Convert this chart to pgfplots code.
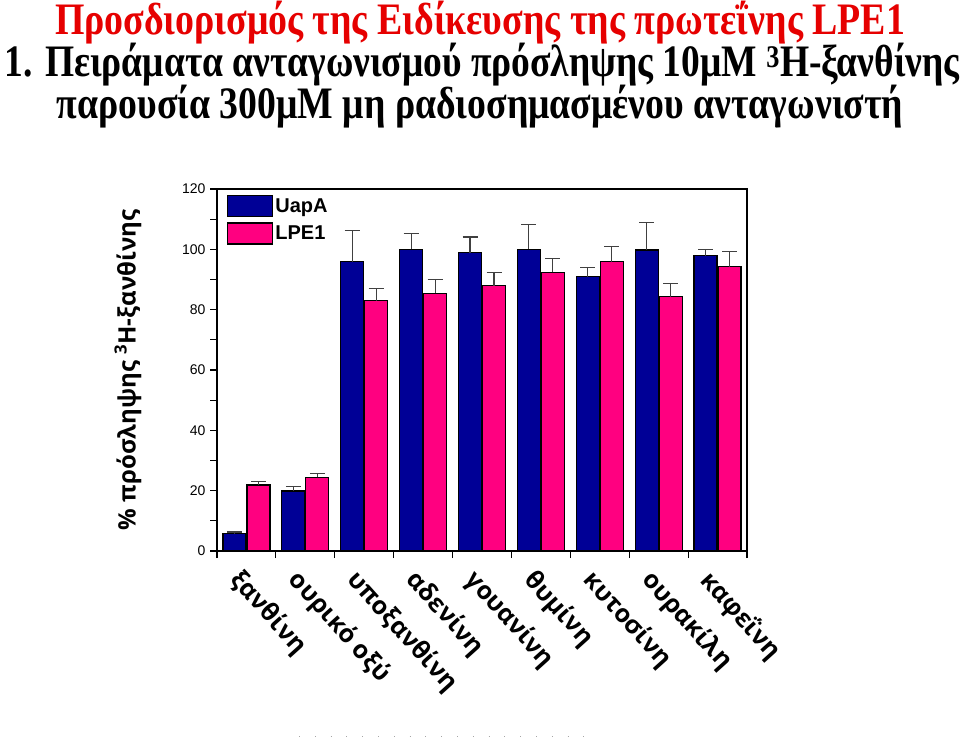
\documentclass[border=0pt]{standalone}
\usepackage{pgfplots}
\pgfplotsset{compat=1.18}
\usepackage{pgfplotstable}
\usepackage{graphicx}
\usepackage{fontspec}
\setmainfont{Liberation Serif}
\newfontfamily\lsans{Liberation Sans}
\newfontfamily\osans{Open Sans}

\definecolor{uapa}{RGB}{0,0,150}
\definecolor{lpe}{RGB}{255,0,128}
\definecolor{titlered}{RGB}{230,0,0}

% cat: 0..8, values and upper errors
\pgfplotstableread{
x uapa uerr lpe lerr
0 5.8  0.5 21.9 1.2
1 19.9 1.6 24.4 1.2
2 95.9 10.2 83.0 4.1
3 100.0 5.1 85.4 4.5
4 98.9 5.2 87.9 4.5
5 100.0 8.1 92.4 4.7
6 90.9 3.1 95.9 5.0
7 99.8 9.1 84.3 4.4
8 97.9 2.1 94.2 5.0
}\uptake

\begin{document}
\begin{tikzpicture}[x=1pt,y=1pt]
\useasboundingbox (0,0) rectangle (960,739);

% titles
\node[anchor=base, text=titlered, font=\fontsize{45}{45}\selectfont\bfseries, inner sep=0]
  at (480,704) {\resizebox{850pt}{\height}{Προσδιορισμός της Ειδίκευσης της πρωτεΐνης LPE1}};
\node[anchor=base, font=\fontsize{45}{45}\selectfont\bfseries, inner sep=0]
  at (482,662) {\resizebox{955pt}{\height}{1. Πειράματα ανταγωνισμού πρόσληψης 10μΜ \textsuperscript{3}Η-ξανθίνης}};
\node[anchor=base, font=\fontsize{45}{45}\selectfont\bfseries, inner sep=0]
  at (480,620) {\resizebox{846pt}{\height}{παρουσία 300μΜ μη ραδιοσημασμένου ανταγωνιστή}};

% y label
\node[rotate=90, font=\osans\fontsize{24}{24}\selectfont\bfseries, inner sep=0]
  at (128,369) {\% πρόσληψης \textsuperscript{3}H-ξανθίνης};

\begin{axis}[
  at={(217pt,188pt)}, anchor=south west,
  scale only axis, width=530pt, height=362pt,
  xmin=-0.5, xmax=8.5, ymin=0, ymax=120,
  axis line style={line width=1.3pt},
  ytick={0,20,...,120}, minor y tick num=1,
  xtick={0,...,8},
  xticklabels={ξανθίνη, ουρικό οξύ, υποξανθίνη, αδενίνη, γουανίνη, θυμίνη, κυτοσίνη, ουρακίλη, καφεΐνη},
  minor xtick={-0.5,0.5,...,8.5},
  major x tick style={draw=none},
  tick align=outside, ytick pos=left, xtick pos=bottom,
  major tick length=7pt, minor tick length=7pt,
  every tick/.style={line width=1.2pt, black},
  y tick label style={font=\lsans\fontsize{14}{14}\selectfont, xshift=-1pt},
  x tick label style={font=\osans\fontsize{25}{25}\selectfont\bfseries, rotate=-48, anchor=north west, xshift=5pt, yshift=-8pt, inner sep=0pt},
  /pgf/number format/assume math mode=true,
  ybar=1pt, bar width=23pt,
  legend style={at={(axis description cs:0,1)}, anchor=north west, xshift=10pt, yshift=-6pt,
    draw=none, fill=none, inner sep=0pt, row sep=5pt,
    font=\lsans\bfseries\fontsize{20}{20}\selectfont, legend cell align=left},
  legend image code/.code={\draw[#1, line width=1.2pt] (0pt,-10.5pt) rectangle (45pt,10.5pt);},
]
\addplot[fill=uapa, draw=black, line width=1.3pt,
  error bars/.cd, y dir=plus, y explicit,
  error bar style={line width=1.1pt, black!75},
  error mark options={rotate=90, mark size=7.5pt, line width=1.1pt, black!75}]
  table[x=x, y=uapa, y error=uerr] {\uptake};
\addlegendentry{UapA}
\addplot[fill=lpe, draw=black, line width=1.3pt,
  error bars/.cd, y dir=plus, y explicit,
  error bar style={line width=1.1pt, black!75},
  error mark options={rotate=90, mark size=7.5pt, line width=1.1pt, black!75}]
  table[x=x, y=lpe, y error=lerr] {\uptake};
\addlegendentry{LPE1}
\end{axis}

% faint dotted artefact at the bottom
\draw[black!35, line width=0.8pt, dash pattern=on 0.8pt off 15pt] (299,3) -- (590,3);
\end{tikzpicture}
\end{document}
